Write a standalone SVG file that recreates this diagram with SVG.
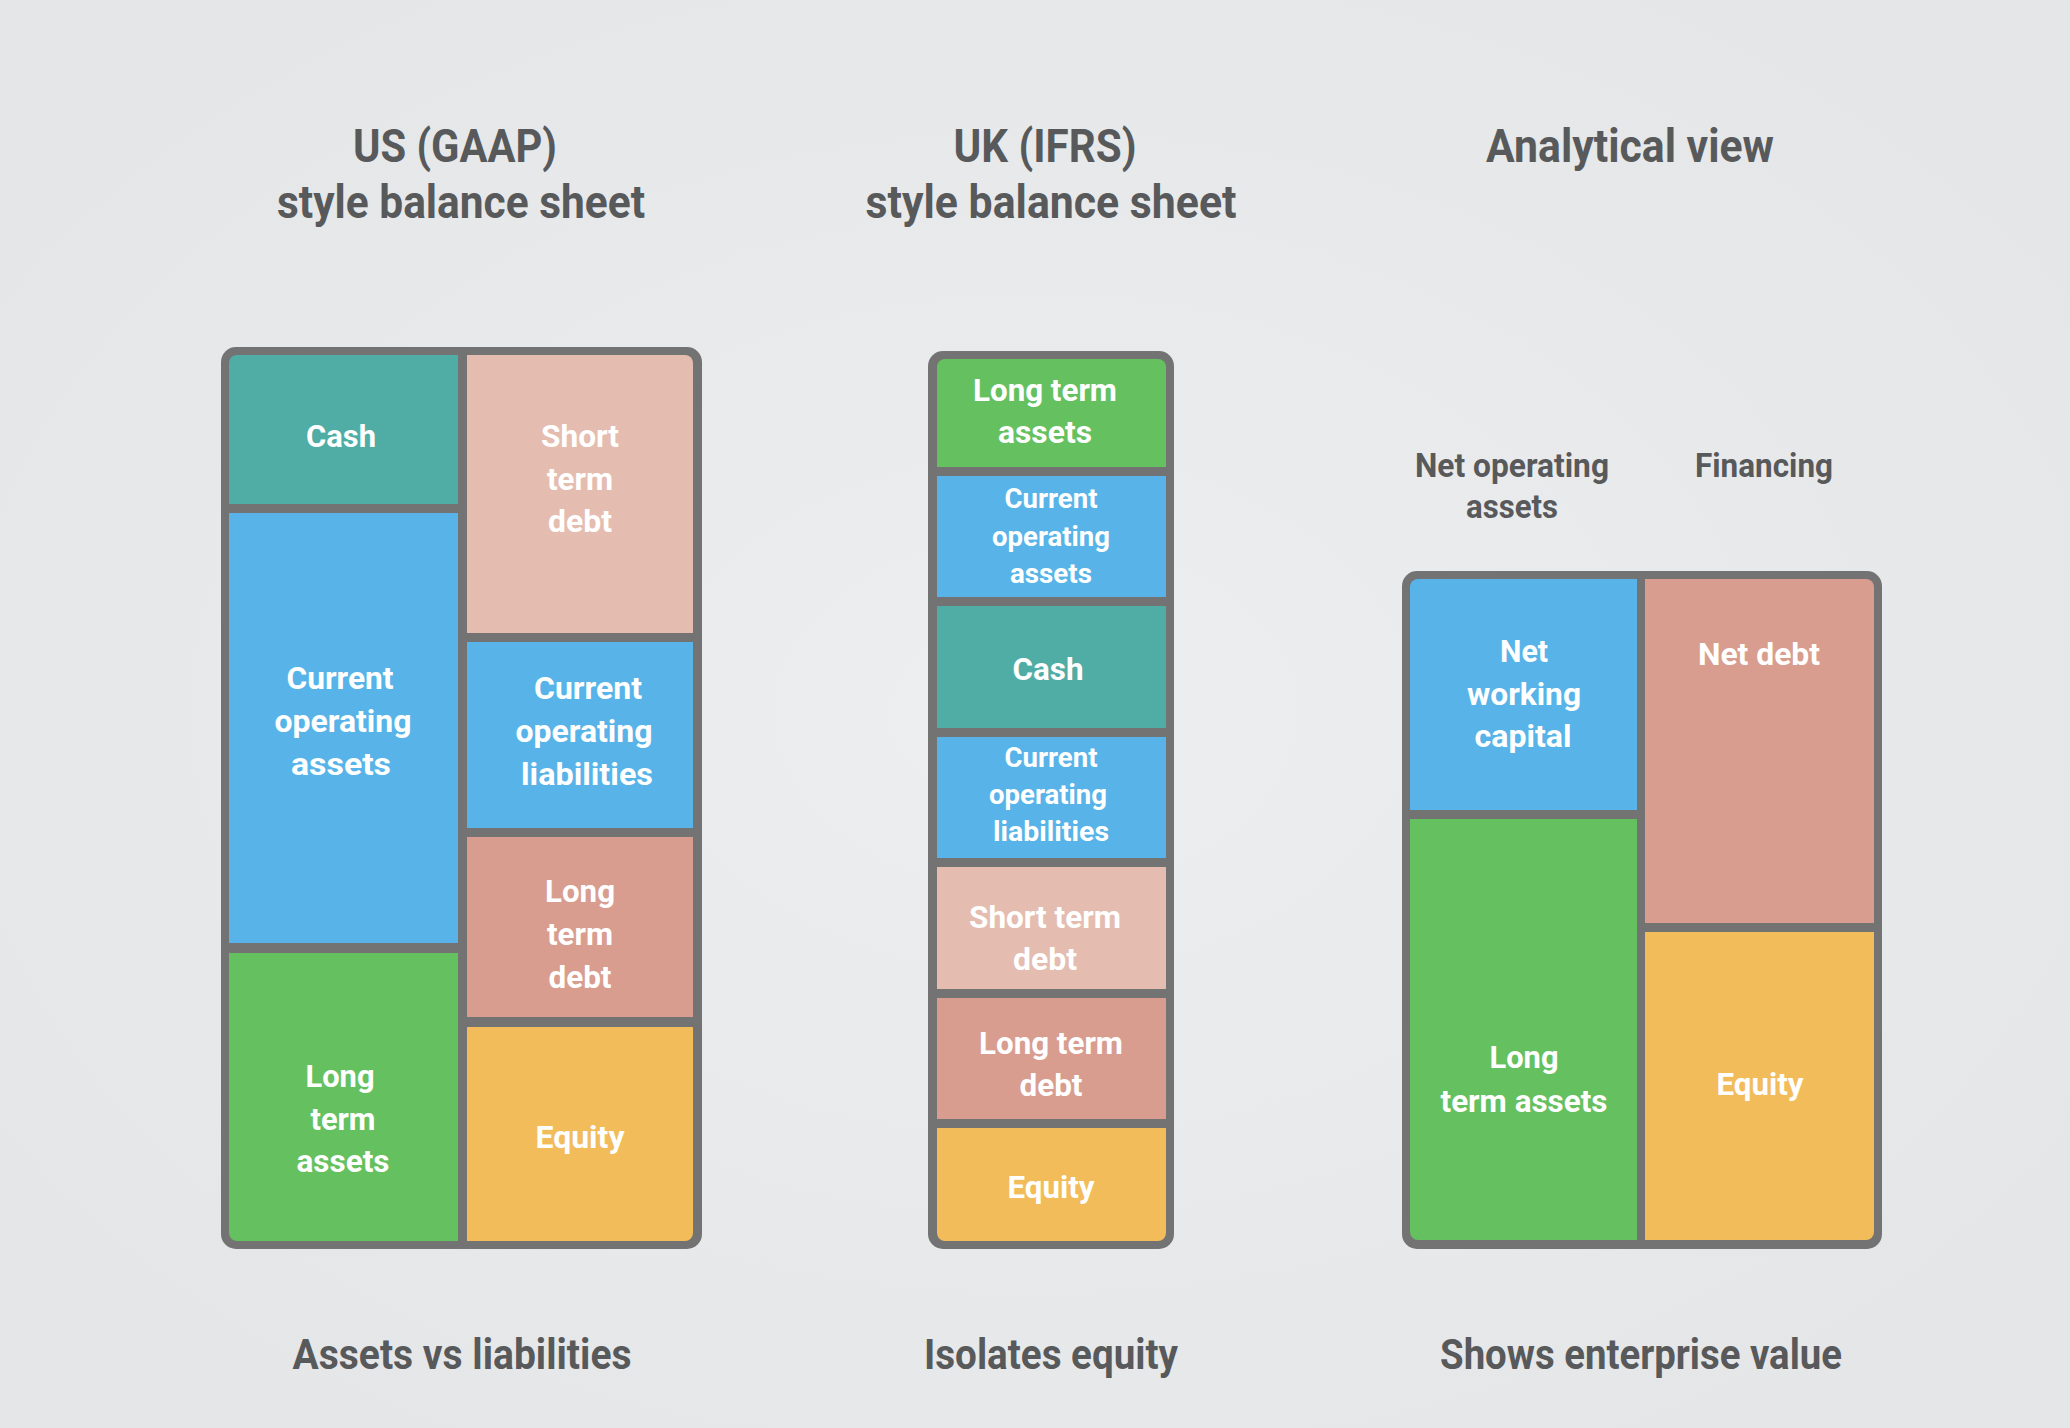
<svg xmlns="http://www.w3.org/2000/svg" width="2070" height="1428" viewBox="0 0 2070 1428">
<style>
.bg{fill:url(#bgg)}
.frame{fill:#737373}
.t{font-family:Roboto,"Liberation Sans",sans-serif;font-weight:700;text-anchor:middle}
.title{font-size:47px;fill:#58595b}
.sub{font-size:34px;fill:#58595b}
.foot{font-size:43px;fill:#58595b}
.c{font-size:32px;fill:#ffffff}
.cs{font-size:28px;fill:#ffffff}
.teal{fill:#4fada5}
.blue{fill:#58b4e8}
.green{fill:#65c160}
.sd{fill:#e4bdb0}
.ld{fill:#d89d8f}
.eq{fill:#f2bc5a}
</style>
<defs>
<radialGradient id="bgg" cx="50%" cy="50%" r="60%">
<stop offset="0" stop-color="#eceef0"/>
<stop offset="1" stop-color="#e5e6e8"/>
</radialGradient>
<clipPath id="clipUS"><rect x="229" y="355" width="464" height="886" rx="8"/></clipPath>
<clipPath id="clipUK"><rect x="937" y="359" width="229" height="882" rx="8"/></clipPath>
<clipPath id="clipAN"><rect x="1410" y="579" width="464" height="661" rx="8"/></clipPath>
</defs>
<rect class="bg" x="0" y="0" width="2070" height="1428"/>

<g id="titles">
<text class="t title" x="455" y="162" textLength="204" lengthAdjust="spacingAndGlyphs">US (GAAP)</text>
<text class="t title" x="461" y="218" textLength="368" lengthAdjust="spacingAndGlyphs">style balance sheet</text>
<text class="t title" x="1045" y="162" textLength="183" lengthAdjust="spacingAndGlyphs">UK (IFRS)</text>
<text class="t title" x="1051" y="218" textLength="371" lengthAdjust="spacingAndGlyphs">style balance sheet</text>
<text class="t title" x="1630" y="162" textLength="288" lengthAdjust="spacingAndGlyphs">Analytical view</text>
<text class="t sub" x="1512" y="477" textLength="194" lengthAdjust="spacingAndGlyphs">Net operating</text>
<text class="t sub" x="1512" y="518" textLength="92" lengthAdjust="spacingAndGlyphs">assets</text>
<text class="t sub" x="1764" y="477" textLength="138" lengthAdjust="spacingAndGlyphs">Financing</text>
</g>

<g id="us-sheet">
<rect class="frame" x="221" y="347" width="481" height="902" rx="15"/>
<g clip-path="url(#clipUS)">
<g id="us-cash"><rect class="teal" x="229" y="355" width="229" height="149"/>
<text class="t c" x="341" y="447" textLength="70" lengthAdjust="spacingAndGlyphs">Cash</text></g>
<g id="us-coa"><rect class="blue" x="229" y="513" width="229" height="430"/>
<text class="t c" x="340" y="689" textLength="107" lengthAdjust="spacingAndGlyphs">Current</text>
<text class="t c" x="343" y="732" textLength="137" lengthAdjust="spacingAndGlyphs">operating</text>
<text class="t c" x="341" y="775" textLength="100" lengthAdjust="spacingAndGlyphs">assets</text></g>
<g id="us-lta"><rect class="green" x="229" y="953" width="229" height="288"/>
<text class="t c" x="340" y="1087" textLength="69" lengthAdjust="spacingAndGlyphs">Long</text>
<text class="t c" x="343" y="1130" textLength="65" lengthAdjust="spacingAndGlyphs">term</text>
<text class="t c" x="343" y="1172" textLength="93" lengthAdjust="spacingAndGlyphs">assets</text></g>
<g id="us-std"><rect class="sd" x="467" y="355" width="226" height="278"/>
<text class="t c" x="580" y="447" textLength="78" lengthAdjust="spacingAndGlyphs">Short</text>
<text class="t c" x="580" y="490" textLength="66" lengthAdjust="spacingAndGlyphs">term</text>
<text class="t c" x="580" y="532" textLength="64" lengthAdjust="spacingAndGlyphs">debt</text></g>
<g id="us-col"><rect class="blue" x="467" y="642" width="226" height="186"/>
<text class="t c" x="588" y="699" textLength="108" lengthAdjust="spacingAndGlyphs">Current</text>
<text class="t c" x="584" y="742" textLength="137" lengthAdjust="spacingAndGlyphs">operating</text>
<text class="t c" x="587" y="785" textLength="132" lengthAdjust="spacingAndGlyphs">liabilities</text></g>
<g id="us-ltd"><rect class="ld" x="467" y="837" width="226" height="180"/>
<text class="t c" x="580" y="902" textLength="70" lengthAdjust="spacingAndGlyphs">Long</text>
<text class="t c" x="580" y="945" textLength="66" lengthAdjust="spacingAndGlyphs">term</text>
<text class="t c" x="580" y="988" textLength="63" lengthAdjust="spacingAndGlyphs">debt</text></g>
<g id="us-eq"><rect class="eq" x="467" y="1027" width="226" height="214"/>
<text class="t c" x="580" y="1148" textLength="89" lengthAdjust="spacingAndGlyphs">Equity</text></g>
</g>
</g>

<g id="uk-sheet">
<rect class="frame" x="928" y="351" width="246" height="898" rx="15"/>
<g clip-path="url(#clipUK)">
<g id="uk-lta"><rect class="green" x="937" y="359" width="229" height="108"/>
<text class="t c" x="1045" y="401" textLength="144" lengthAdjust="spacingAndGlyphs">Long term</text>
<text class="t c" x="1045" y="443" textLength="94" lengthAdjust="spacingAndGlyphs">assets</text></g>
<g id="uk-coa"><rect class="blue" x="937" y="476" width="229" height="121"/>
<text class="t cs" x="1051" y="508" textLength="93" lengthAdjust="spacingAndGlyphs">Current</text>
<text class="t cs" x="1051" y="546" textLength="118" lengthAdjust="spacingAndGlyphs">operating</text>
<text class="t cs" x="1051" y="583" textLength="82" lengthAdjust="spacingAndGlyphs">assets</text></g>
<g id="uk-cash"><rect class="teal" x="937" y="606" width="229" height="122"/>
<text class="t c" x="1048" y="680" textLength="71" lengthAdjust="spacingAndGlyphs">Cash</text></g>
<g id="uk-col"><rect class="blue" x="937" y="737" width="229" height="121"/>
<text class="t cs" x="1051" y="767" textLength="93" lengthAdjust="spacingAndGlyphs">Current</text>
<text class="t cs" x="1048" y="804" textLength="118" lengthAdjust="spacingAndGlyphs">operating</text>
<text class="t cs" x="1051" y="841" textLength="116" lengthAdjust="spacingAndGlyphs">liabilities</text></g>
<g id="uk-std"><rect class="sd" x="937" y="867" width="229" height="122"/>
<text class="t c" x="1045" y="928" textLength="152" lengthAdjust="spacingAndGlyphs">Short term</text>
<text class="t c" x="1045" y="970" textLength="64" lengthAdjust="spacingAndGlyphs">debt</text></g>
<g id="uk-ltd"><rect class="ld" x="937" y="998" width="229" height="121"/>
<text class="t c" x="1051" y="1054" textLength="144" lengthAdjust="spacingAndGlyphs">Long term</text>
<text class="t c" x="1051" y="1096" textLength="63" lengthAdjust="spacingAndGlyphs">debt</text></g>
<g id="uk-eq"><rect class="eq" x="937" y="1128" width="229" height="113"/>
<text class="t c" x="1051" y="1198" textLength="87" lengthAdjust="spacingAndGlyphs">Equity</text></g>
</g>
</g>

<g id="an-sheet">
<rect class="frame" x="1402" y="571" width="480" height="678" rx="15"/>
<g clip-path="url(#clipAN)">
<g id="an-nwc"><rect class="blue" x="1410" y="579" width="227" height="231"/>
<text class="t c" x="1524" y="662" textLength="48" lengthAdjust="spacingAndGlyphs">Net</text>
<text class="t c" x="1524" y="705" textLength="114" lengthAdjust="spacingAndGlyphs">working</text>
<text class="t c" x="1523" y="747" textLength="97" lengthAdjust="spacingAndGlyphs">capital</text></g>
<g id="an-lta"><rect class="green" x="1410" y="819" width="227" height="421"/>
<text class="t c" x="1524" y="1068" textLength="69" lengthAdjust="spacingAndGlyphs">Long</text>
<text class="t c" x="1524" y="1112" textLength="167" lengthAdjust="spacingAndGlyphs">term assets</text></g>
<g id="an-nd"><rect class="ld" x="1645" y="579" width="229" height="344"/>
<text class="t c" x="1759" y="665" textLength="122" lengthAdjust="spacingAndGlyphs">Net debt</text></g>
<g id="an-eq"><rect class="eq" x="1645" y="932" width="229" height="308"/>
<text class="t c" x="1760" y="1095" textLength="87" lengthAdjust="spacingAndGlyphs">Equity</text></g>
</g>
</g>

<g id="footers">
<text class="t foot" x="462" y="1369" textLength="339" lengthAdjust="spacingAndGlyphs">Assets vs liabilities</text>
<text class="t foot" x="1051" y="1369" textLength="254" lengthAdjust="spacingAndGlyphs">Isolates equity</text>
<text class="t foot" x="1641" y="1369" textLength="402" lengthAdjust="spacingAndGlyphs">Shows enterprise value</text>
</g>
<g id="connectors"></g>
</svg>
